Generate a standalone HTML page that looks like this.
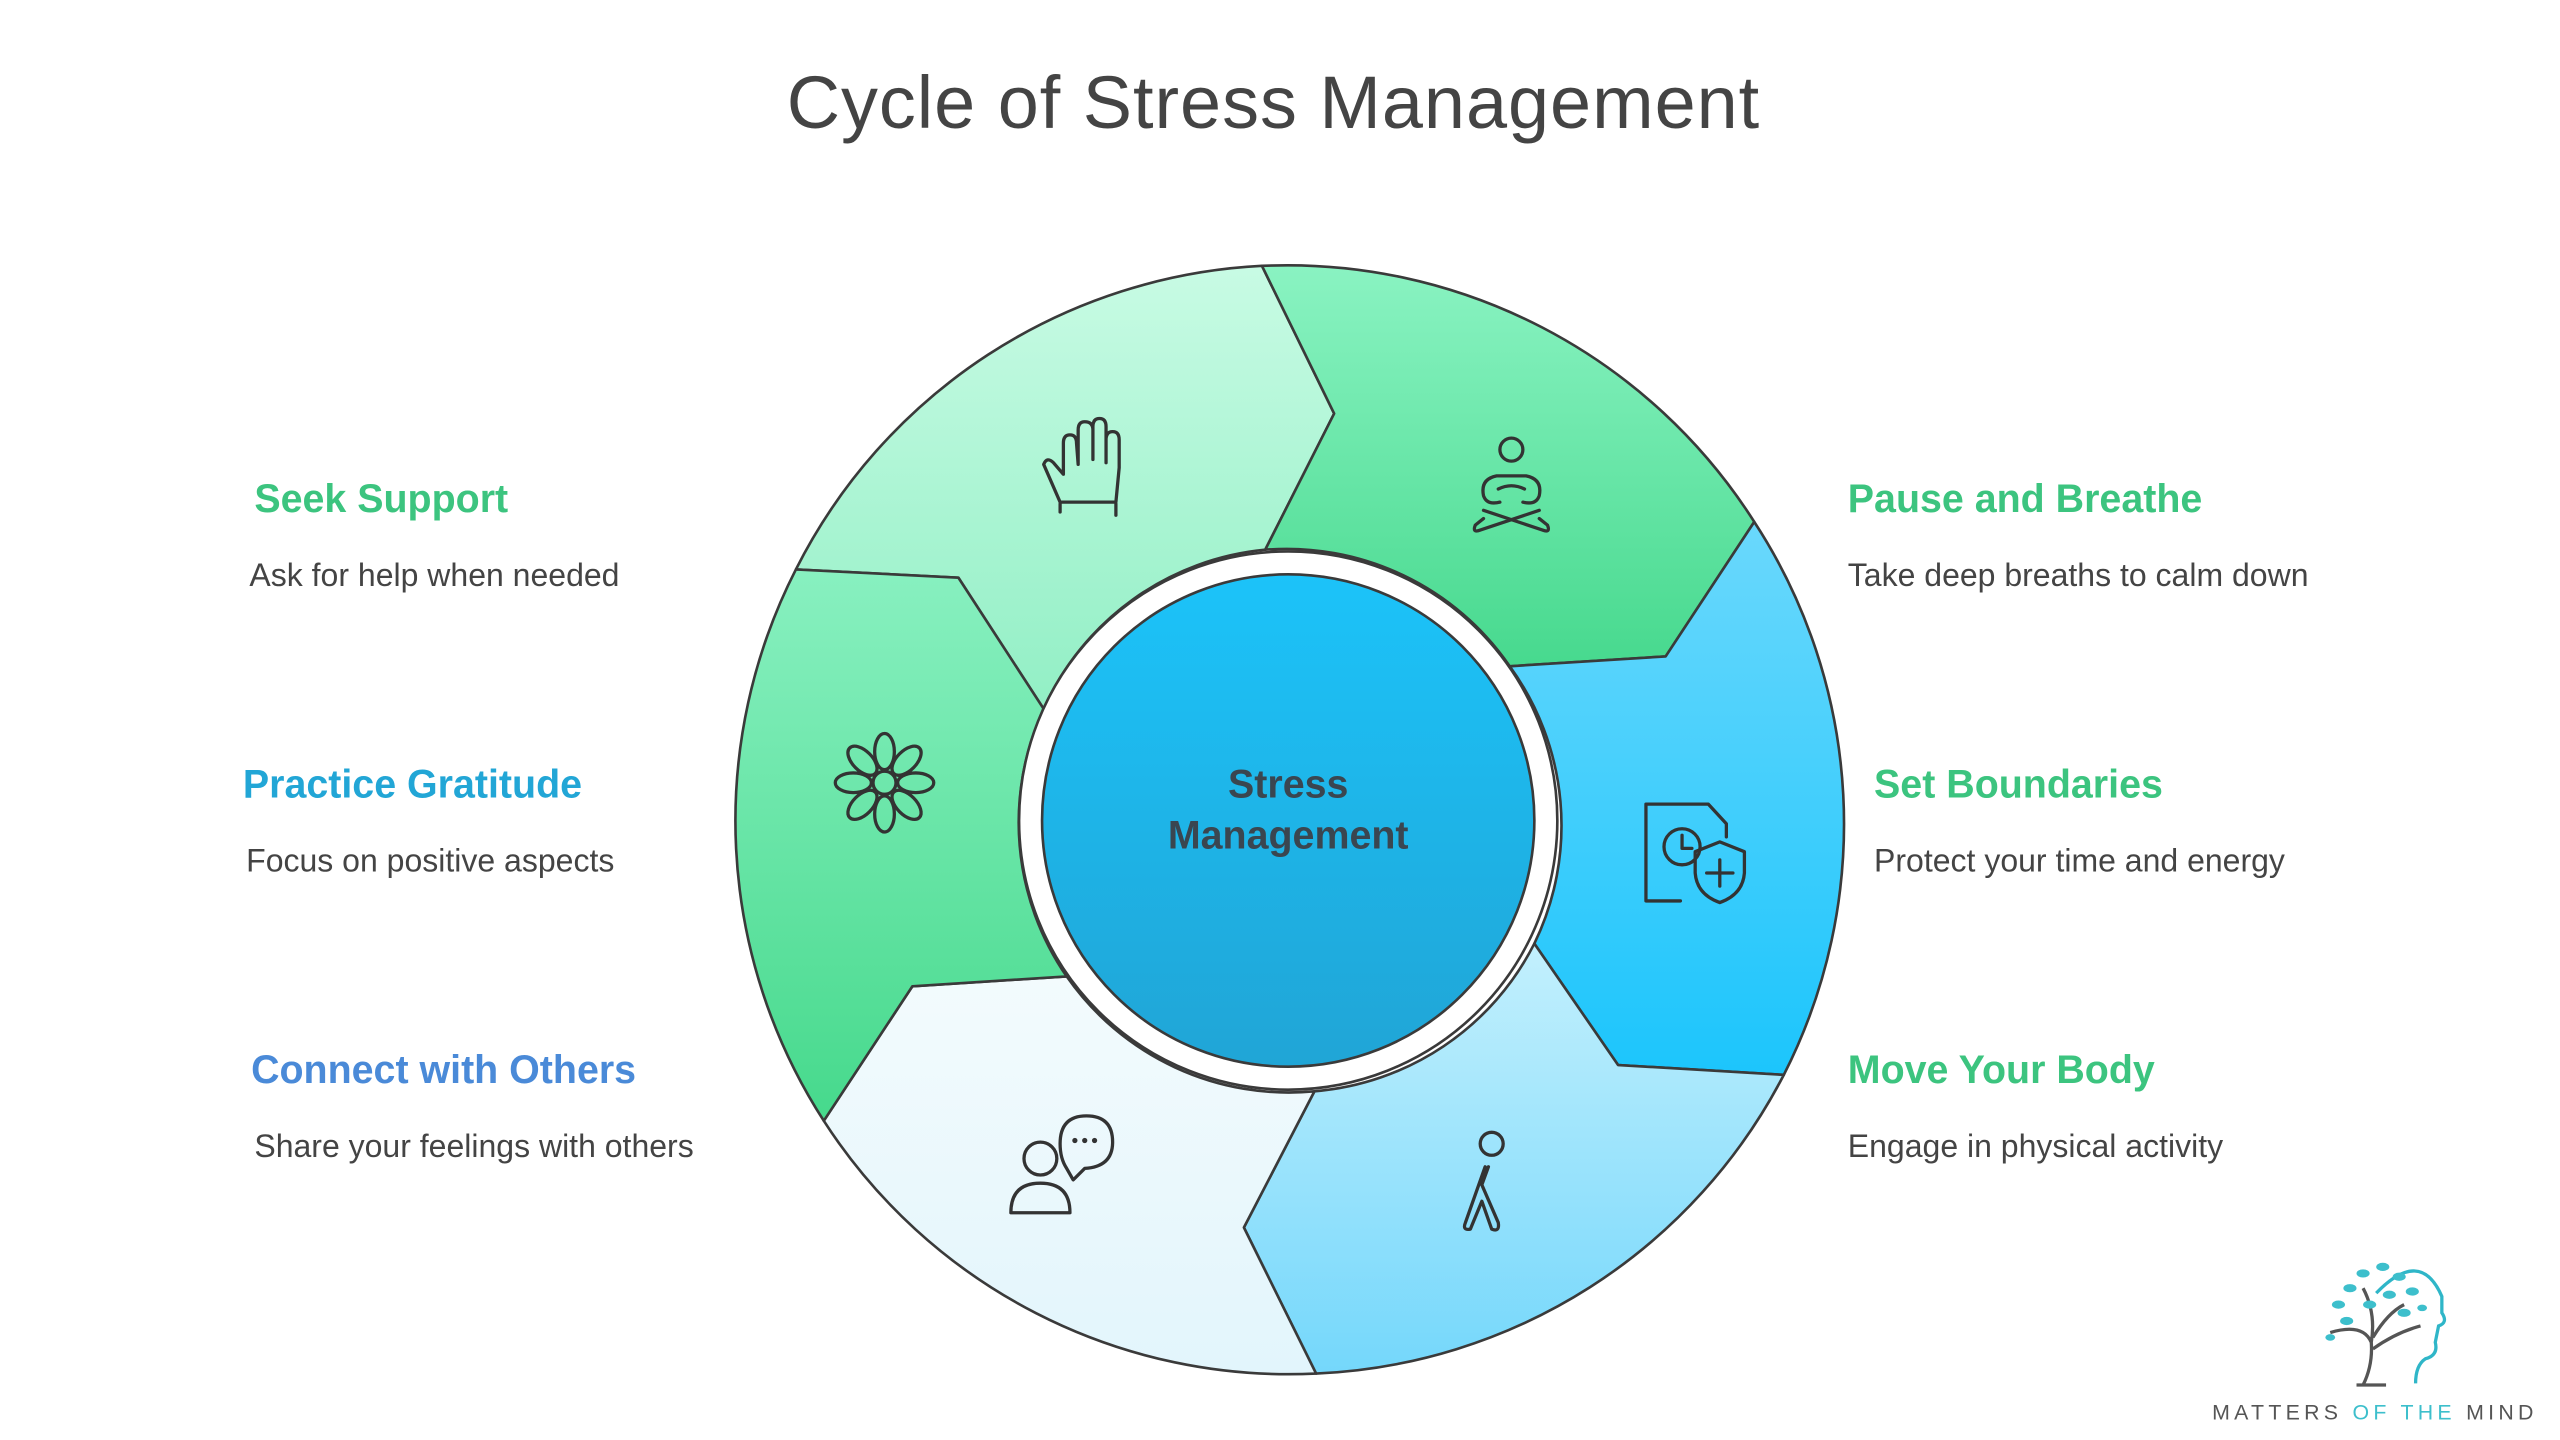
<!DOCTYPE html>
<html><head><meta charset="utf-8"><style>
html,body{margin:0;padding:0;background:#fff;}
svg{display:block}
</style></head><body>
<svg width="2560" height="1440" viewBox="0 0 1560 877.5" xmlns="http://www.w3.org/2000/svg" font-family="Liberation Sans, sans-serif">
<defs>
<linearGradient id="g1" x1="0" y1="0" x2="0" y2="1"><stop offset="0" stop-color="#c8fbe4"/><stop offset="1" stop-color="#92efc5"/></linearGradient>
<linearGradient id="g2" x1="0" y1="0" x2="0" y2="1"><stop offset="0" stop-color="#8af3c2"/><stop offset="1" stop-color="#47d98e"/></linearGradient>
<linearGradient id="g3" x1="0" y1="0" x2="0" y2="1"><stop offset="0" stop-color="#6ad8fc"/><stop offset="1" stop-color="#1cc5fc"/></linearGradient>
<linearGradient id="g4" x1="0" y1="0" x2="0" y2="1"><stop offset="0" stop-color="#c3f0fd"/><stop offset="1" stop-color="#74d7fb"/></linearGradient>
<linearGradient id="g5" x1="0" y1="0" x2="0" y2="1"><stop offset="0" stop-color="#f3fbfd"/><stop offset="1" stop-color="#e2f5fc"/></linearGradient>
<linearGradient id="g6" x1="0" y1="0" x2="0" y2="1"><stop offset="0" stop-color="#88f0c0"/><stop offset="1" stop-color="#46d98c"/></linearGradient>
<linearGradient id="gc" x1="0" y1="0" x2="0" y2="1"><stop offset="0" stop-color="#1cc3f9"/><stop offset="1" stop-color="#20a5d6"/></linearGradient>
</defs>
<text x="776" y="78" text-anchor="middle" font-size="45" letter-spacing="0.6" fill="#444">Cycle of Stress Management</text>
<g stroke="#3a3a3a" stroke-width="1.6" stroke-linejoin="round">
<path fill="url(#g1)" d="M485,347 A337,337 0 0 1 769,162 L813,252 L771,335 A165,165 0 0 0 636,432 L584,352 Z"/>
<path fill="url(#g2)" d="M769,162 A337,337 0 0 1 1069,318 L1015,400 L920,406 A165,165 0 0 0 771,335 L813,252 Z"/>
<path fill="url(#g3)" d="M1069,318 A337,337 0 0 1 1087,655 L986,649 L935,575 A165,165 0 0 0 920,406 L1015,400 Z"/>
<path fill="url(#g4)" d="M1087,655 A337,337 0 0 1 802,837 L758,748 L801,665 A165,165 0 0 0 935,575 L986,649 Z"/>
<path fill="url(#g5)" d="M802,837 A337,337 0 0 1 502,683 L556,601 L650,595 A165,165 0 0 0 801,665 L758,748 Z"/>
<path fill="url(#g6)" d="M502,683 A337,337 0 0 1 485,347 L584,352 L636,432 A165,165 0 0 0 650,595 L556,601 Z"/>
<circle cx="785" cy="500" r="164" fill="#fff"/>
<circle cx="785" cy="500" r="150" fill="url(#gc)"/>
</g>
<text x="785" y="486" text-anchor="middle" font-size="24" font-weight="bold" fill="#3a4650">Stress</text>
<text x="785" y="517" text-anchor="middle" font-size="24" font-weight="bold" fill="#3a4650">Management</text>
<g fill="none" stroke="#333" stroke-width="2" stroke-linecap="round" stroke-linejoin="round">
<path d="M646,307 L646,312 M680,307 L680,314 M646,306 L680,306 L682,285 L682,268 Q682,263 678,263 Q674,263 674,268 L674,282 M674,280 L674,260 Q674,255 670,255 Q666,255 666,260 L666,280 M666,278 L666,262 Q666,257 661,257 Q657,257 657,262 L657,283 M657,283 L656,270 Q656,265 652,265 Q648,265 648,270 L648,289 L642,282 Q638,278 636,283 L646,306"/>
<circle cx="921" cy="274" r="7"/>
<path d="M912,290 Q902,292 904,302 Q906,308 914,306 M930,290 Q940,292 938,302 Q936,308 928,306 M912,290 L930,290 M913,298 Q921,294 929,298 M904,311 L940,323 Q945,325 943,320 L938,316 M938,311 L902,323 Q897,325 899,320 L904,316"/>
<circle cx="539" cy="477" r="7"/>
<g transform="translate(539,477)">
<ellipse cx="0" cy="-19" rx="6" ry="11"/><ellipse cx="0" cy="19" rx="6" ry="11"/><ellipse cx="-19" cy="0" rx="11" ry="6"/><ellipse cx="19" cy="0" rx="11" ry="6"/>
<ellipse cx="0" cy="-19" rx="6" ry="11" transform="rotate(45)"/><ellipse cx="0" cy="-19" rx="6" ry="11" transform="rotate(135)"/><ellipse cx="0" cy="-19" rx="6" ry="11" transform="rotate(225)"/><ellipse cx="0" cy="-19" rx="6" ry="11" transform="rotate(315)"/>
</g>
<path d="M1024,549 L1003,549 L1003,490 L1041,490 L1052,502 L1052,510"/>
<circle cx="1025" cy="516" r="11"/><path d="M1025,509 L1025,517 L1031,517"/>
<path d="M1048,513 L1063,519 L1063,532 Q1062,545 1048,550 Q1034,545 1033,532 L1033,519 Z M1048,524 L1048,540 M1040,532 L1056,532"/>
<circle cx="909" cy="697" r="7"/>
<path d="M905,711 L893,745 Q891,750 896,749 L903,732 L909,749 Q914,751 913,745 L903,722 L907,711"/>
<circle cx="634" cy="706" r="10"/>
<path d="M616,739 Q616,721 634,721 Q652,721 652,739 Z"/>
<path d="M650,712 Q646,706 646,697 Q646,680 662,680 Q678,680 678,696 Q678,711 661,712 L654,719 Z"/>
</g>
<g fill="#333"><circle cx="655" cy="695" r="1.6"/><circle cx="661" cy="695" r="1.6"/><circle cx="667" cy="695" r="1.6"/></g>
<g font-weight="bold" font-size="24">
<text x="155" y="312" fill="#3cc47f">Seek Support</text>
<text x="148" y="486" fill="#22a6d6">Practice Gratitude</text>
<text x="153" y="660" fill="#4a8ad8">Connect with Others</text>
<text x="1126" y="312" fill="#3cc47f">Pause and Breathe</text>
<text x="1142" y="486" fill="#3cc47f">Set Boundaries</text>
<text x="1126" y="660" fill="#3cc47f">Move Your Body</text>
</g>
<g font-size="19.5" fill="#444">
<text x="152" y="357">Ask for help when needed</text>
<text x="150" y="531">Focus on positive aspects</text>
<text x="155" y="705">Share your feelings with others</text>
<text x="1126" y="357">Take deep breaths to calm down</text>
<text x="1142" y="531">Protect your time and energy</text>
<text x="1126" y="705">Engage in physical activity</text>
</g>
<g>
<path d="M1448,788 Q1475,760 1488,790 L1488,800 Q1492,806 1486,808 L1484,818 Q1486,826 1478,828 Q1472,832 1472,843" fill="none" stroke="#2fb6c8" stroke-width="2"/>
<path d="M1440,844 Q1446,832 1445,818 Q1440,806 1420,812 M1445,818 Q1448,800 1440,785 M1446,815 Q1455,800 1465,795 M1446,822 Q1460,812 1475,808 M1436,844 L1454,844" fill="none" stroke="#555" stroke-width="2"/>
<g fill="#3dbfcc">
<ellipse cx="1425" cy="795" rx="4" ry="2.5"/><ellipse cx="1432" cy="785" rx="4" ry="2.5"/><ellipse cx="1440" cy="776" rx="4" ry="2.5"/><ellipse cx="1452" cy="772" rx="4" ry="2.5"/><ellipse cx="1462" cy="778" rx="4" ry="2.5"/><ellipse cx="1470" cy="787" rx="4" ry="2.5"/><ellipse cx="1456" cy="789" rx="4" ry="2.5"/><ellipse cx="1444" cy="795" rx="4" ry="2.5"/><ellipse cx="1430" cy="805" rx="4" ry="2.5"/><ellipse cx="1465" cy="800" rx="4" ry="2.5"/><ellipse cx="1420" cy="815" rx="3" ry="2"/><ellipse cx="1476" cy="797" rx="3" ry="2"/>
</g>
<text x="1348" y="865" font-size="13" letter-spacing="2.6" fill="#555">MATTERS <tspan fill="#3dbfcc">OF THE</tspan> MIND</text>
</g>
</svg>
</body></html>
